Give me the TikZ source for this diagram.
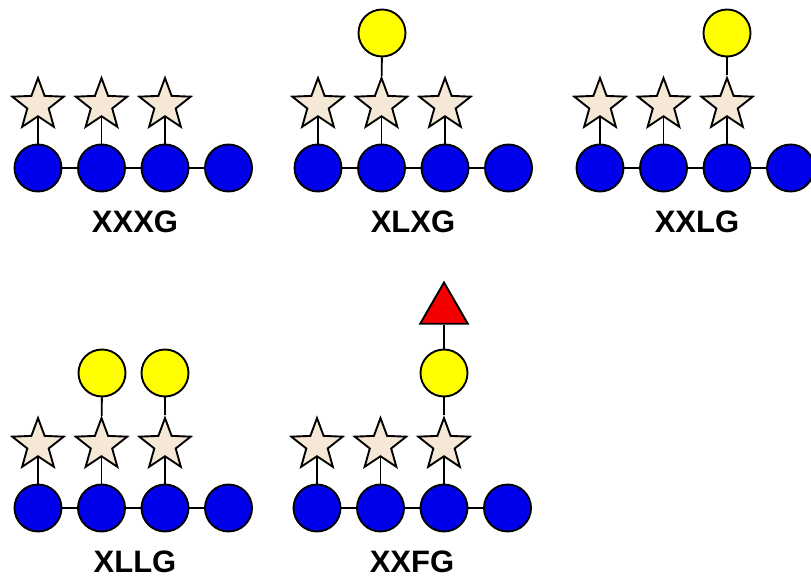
\documentclass[tikz,border=0pt]{standalone}
\usepackage{fontspec}
\setmainfont{Liberation Sans}
\usetikzlibrary{shapes.geometric,backgrounds}
\definecolor{glcblue}{RGB}{0,0,235}
\definecolor{galyellow}{RGB}{255,255,0}
\definecolor{xylbeige}{RGB}{246,232,214}
\definecolor{fucred}{RGB}{245,0,0}
\newcommand\xgchain[3]{%
  \foreach \i in {1,...,4} \node[glc] (#1c\i) at ({#2+63.5*(\i-1)},#3) {};
  \foreach \i in {1,2,3} \node[xyl] (#1x\i) at ({#2+63.5*(\i-1)},{#3-63}) {};
  \begin{pgfonlayer}{background}
    \draw[link] (#1c1) -- (#1c2) -- (#1c3) -- (#1c4);
    \foreach \i in {1,2,3} \draw[link] (#1c\i) -- (#1x\i);
  \end{pgfonlayer}}
\begin{document}
\begin{tikzpicture}[x=1pt,y=-1pt,
  glc/.style={circle,draw=black,line width=1.9pt,fill=glcblue,minimum size=47pt,inner sep=0pt},
  gal/.style={circle,draw=black,line width=1.9pt,fill=galyellow,minimum size=47pt,inner sep=0pt},
  xyl/.style={star,star points=5,star point ratio=2.4,draw=black,line width=1.9pt,fill=xylbeige,minimum size=54pt,inner sep=0pt},
  fuc/.style={regular polygon,regular polygon sides=3,draw=black,line width=1.9pt,fill=fucred,minimum size=55pt,inner sep=0pt},
  link/.style={line width=1.9pt,draw=black},
  lbl/.style={font=\bfseries\fontsize{31}{31}\selectfont,inner sep=0pt}]
\useasboundingbox (0,0) rectangle (811,580);
% Row 1
\xgchain{A}{38}{168}
\xgchain{B}{318}{168}
\xgchain{C}{600}{168}
\node[gal] (Bg2) at (382,33) {};
\node[gal] (Cg3) at (727,33) {};
% Row 2
\xgchain{D}{38}{508}
\xgchain{E}{317}{508}
\node[gal] (Dg2) at (102,373) {};
\node[gal] (Dg3) at (165,373) {};
\node[gal] (Eg3) at (444,373) {};
\node[fuc] (Ef3) at (444,310) {};
\begin{pgfonlayer}{background}
  \draw[link] (Bx2) -- (Bg2);
  \draw[link] (Cx3) -- (Cg3);
  \draw[link] (Dx2) -- (Dg2);
  \draw[link] (Dx3) -- (Dg3);
  \draw[link] (Ex3) -- (Eg3) -- (Ef3);
\end{pgfonlayer}
% Labels
\node[lbl] (lA) at (135,222) {XXXG};
\node[lbl] (lB) at (413,222) {XLXG};
\node[lbl] (lC) at (697,222) {XXLG};
\node[lbl] (lD) at (135,562) {XLLG};
\node[lbl] (lE) at (412,562) {XXFG};
\end{tikzpicture}
\end{document}
